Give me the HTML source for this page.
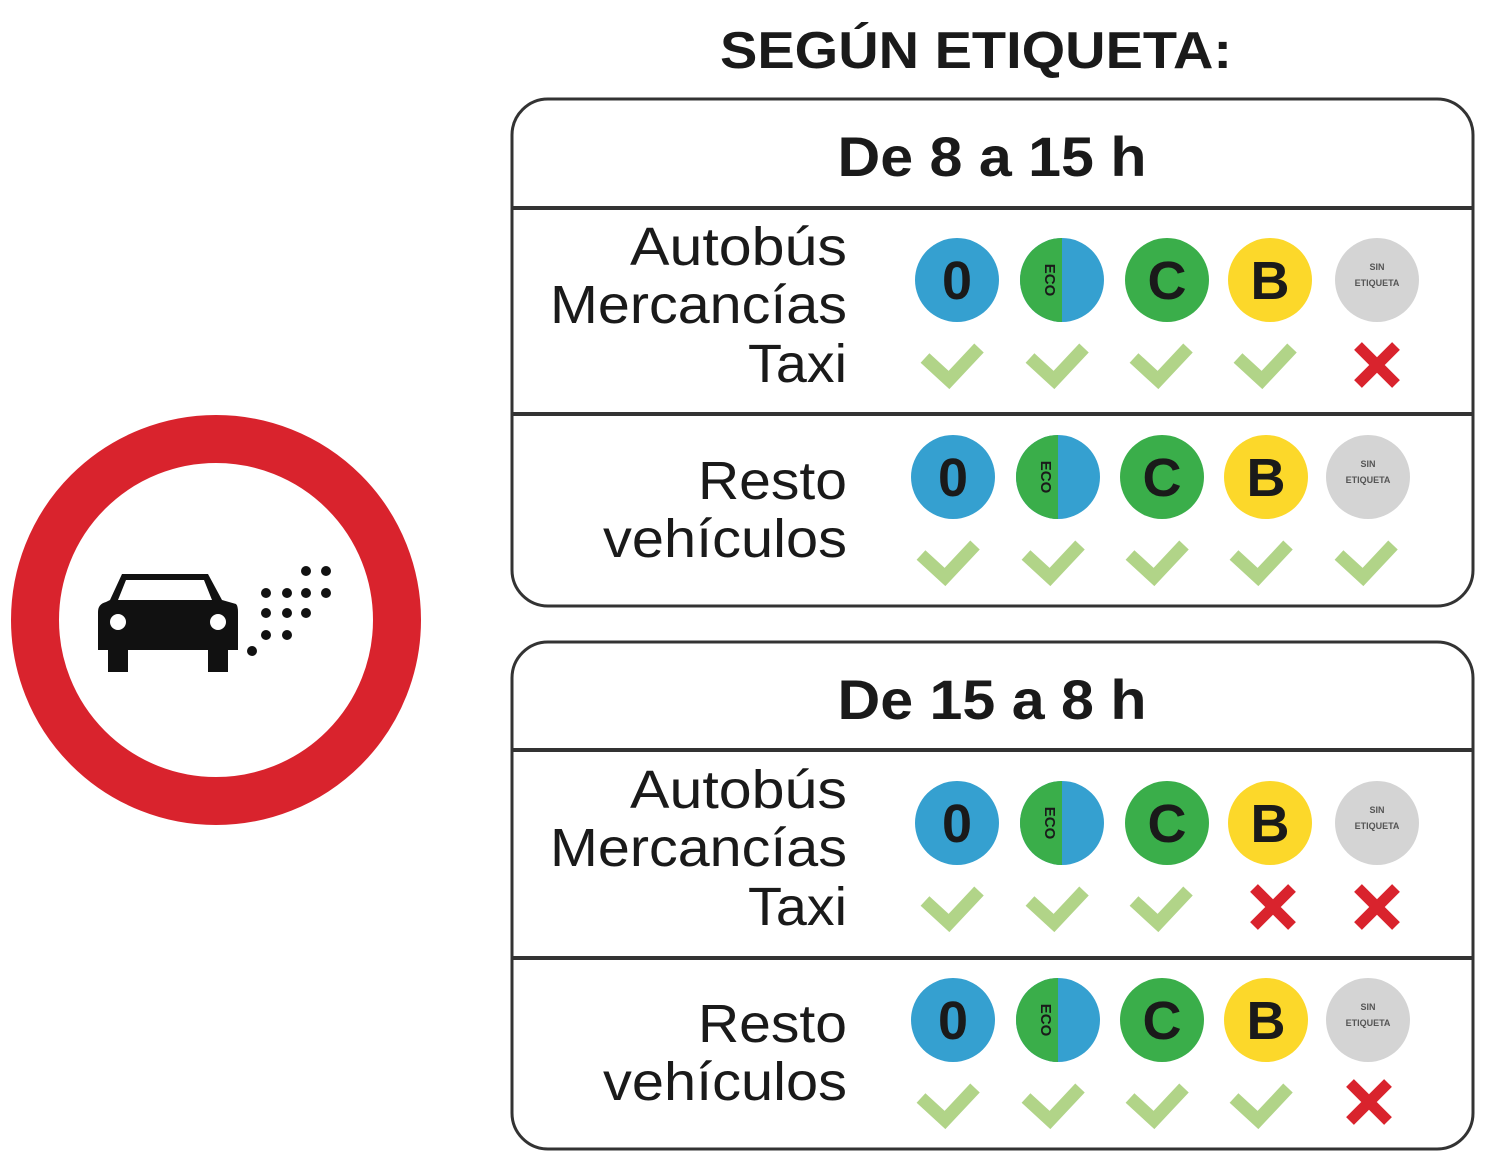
<!DOCTYPE html>
<html><head><meta charset="utf-8"><style>
html,body{margin:0;padding:0;background:#fff;width:1490px;height:1162px;overflow:hidden}
svg{display:block}
text{font-family:"Liberation Sans",sans-serif;font-weight:bold;fill:#1a1a1a}
.lb{font-weight:normal;font-size:54px;text-anchor:end}
.bt{text-anchor:middle}
</style></head><body>
<svg width="1490" height="1162" viewBox="0 0 1490 1162" xmlns="http://www.w3.org/2000/svg">
<circle cx="216" cy="620" r="181" fill="none" stroke="#d9232d" stroke-width="48"/>
<g fill="#111">
<path d="M122,574 L208,574 L222,600 L236,604 Q238,606 238,612 L238,650 L228,650 L228,672 L208,672 L208,650 L128,650 L128,672 L108,672 L108,650 L98,650 L98,612 Q98,604 106,602 L110,600 Z"/>
<path d="M126,580 L204,580 L212,600 L118,600 Z" fill="#fff"/>
<circle cx="118" cy="622" r="8" fill="#fff"/><circle cx="218" cy="622" r="8" fill="#fff"/>
<circle cx="252" cy="651" r="5"/><circle cx="266" cy="635" r="5"/><circle cx="287" cy="635" r="5"/>
<circle cx="266" cy="613" r="5"/><circle cx="287" cy="613" r="5"/><circle cx="306" cy="613" r="5"/>
<circle cx="266" cy="593" r="5"/><circle cx="287" cy="593" r="5"/><circle cx="306" cy="593" r="5"/><circle cx="326" cy="593" r="5"/>
<circle cx="306" cy="571" r="5"/><circle cx="326" cy="571" r="5"/>
</g>
<text x="976" y="68" font-size="52" class="bt" textLength="512" lengthAdjust="spacingAndGlyphs">SEGÚN ETIQUETA:</text>
<rect x="512" y="99" width="961" height="507" rx="36" fill="none" stroke="#333" stroke-width="3"/>
<line x1="512" y1="208" x2="1473" y2="208" stroke="#333" stroke-width="4"/>
<line x1="512" y1="414" x2="1473" y2="414" stroke="#333" stroke-width="4"/>
<rect x="512" y="642" width="961" height="507" rx="36" fill="none" stroke="#333" stroke-width="3"/>
<line x1="512" y1="750" x2="1473" y2="750" stroke="#333" stroke-width="4"/>
<line x1="512" y1="958" x2="1473" y2="958" stroke="#333" stroke-width="4"/>
<text x="992" y="176" font-size="56" class="bt" textLength="309" lengthAdjust="spacingAndGlyphs">De 8 a 15 h</text>
<text x="992" y="719" font-size="56" class="bt" textLength="309" lengthAdjust="spacingAndGlyphs">De 15 a 8 h</text>
<text class="lb" x="847" y="265" textLength="217" lengthAdjust="spacingAndGlyphs">Autobús</text>
<text class="lb" x="847" y="323" textLength="297" lengthAdjust="spacingAndGlyphs">Mercancías</text>
<text class="lb" x="847" y="382" textLength="99" lengthAdjust="spacingAndGlyphs">Taxi</text>
<text class="lb" x="847" y="499" textLength="149" lengthAdjust="spacingAndGlyphs">Resto</text>
<text class="lb" x="847" y="557" textLength="244" lengthAdjust="spacingAndGlyphs">vehículos</text>
<text class="lb" x="847" y="808" textLength="217" lengthAdjust="spacingAndGlyphs">Autobús</text>
<text class="lb" x="847" y="866" textLength="297" lengthAdjust="spacingAndGlyphs">Mercancías</text>
<text class="lb" x="847" y="925" textLength="99" lengthAdjust="spacingAndGlyphs">Taxi</text>
<text class="lb" x="847" y="1042" textLength="149" lengthAdjust="spacingAndGlyphs">Resto</text>
<text class="lb" x="847" y="1100" textLength="244" lengthAdjust="spacingAndGlyphs">vehículos</text>

<g transform="translate(957,280)"><circle r="42" fill="#35a0d0"/><text class="bt" y="19" font-size="54">0</text></g>
<g transform="translate(1062,280)"><circle r="42" fill="#35a0d0"/><path d="M0,-42 A42,42 0 0 0 0,42 Z" fill="#3aae4a"/><text class="bt" font-size="15" transform="translate(-17,0) rotate(90)">ECO</text></g>
<g transform="translate(1167,280)"><circle r="42" fill="#3aae4a"/><text class="bt" y="19" font-size="54">C</text></g>
<g transform="translate(1270,280)"><circle r="42" fill="#fcd82a"/><text class="bt" y="19" font-size="54">B</text></g>
<g transform="translate(1377,280)"><circle r="42" fill="#d4d4d4"/><text class="bt" y="-10" font-size="9" style="fill:#555">SIN</text><text class="bt" y="6" font-size="9" style="fill:#555">ETIQUETA</text></g>

<g transform="translate(953,477)"><circle r="42" fill="#35a0d0"/><text class="bt" y="19" font-size="54">0</text></g>
<g transform="translate(1058,477)"><circle r="42" fill="#35a0d0"/><path d="M0,-42 A42,42 0 0 0 0,42 Z" fill="#3aae4a"/><text class="bt" font-size="15" transform="translate(-17,0) rotate(90)">ECO</text></g>
<g transform="translate(1162,477)"><circle r="42" fill="#3aae4a"/><text class="bt" y="19" font-size="54">C</text></g>
<g transform="translate(1266,477)"><circle r="42" fill="#fcd82a"/><text class="bt" y="19" font-size="54">B</text></g>
<g transform="translate(1368,477)"><circle r="42" fill="#d4d4d4"/><text class="bt" y="-10" font-size="9" style="fill:#555">SIN</text><text class="bt" y="6" font-size="9" style="fill:#555">ETIQUETA</text></g>

<g transform="translate(957,823)"><circle r="42" fill="#35a0d0"/><text class="bt" y="19" font-size="54">0</text></g>
<g transform="translate(1062,823)"><circle r="42" fill="#35a0d0"/><path d="M0,-42 A42,42 0 0 0 0,42 Z" fill="#3aae4a"/><text class="bt" font-size="15" transform="translate(-17,0) rotate(90)">ECO</text></g>
<g transform="translate(1167,823)"><circle r="42" fill="#3aae4a"/><text class="bt" y="19" font-size="54">C</text></g>
<g transform="translate(1270,823)"><circle r="42" fill="#fcd82a"/><text class="bt" y="19" font-size="54">B</text></g>
<g transform="translate(1377,823)"><circle r="42" fill="#d4d4d4"/><text class="bt" y="-10" font-size="9" style="fill:#555">SIN</text><text class="bt" y="6" font-size="9" style="fill:#555">ETIQUETA</text></g>

<g transform="translate(953,1020)"><circle r="42" fill="#35a0d0"/><text class="bt" y="19" font-size="54">0</text></g>
<g transform="translate(1058,1020)"><circle r="42" fill="#35a0d0"/><path d="M0,-42 A42,42 0 0 0 0,42 Z" fill="#3aae4a"/><text class="bt" font-size="15" transform="translate(-17,0) rotate(90)">ECO</text></g>
<g transform="translate(1162,1020)"><circle r="42" fill="#3aae4a"/><text class="bt" y="19" font-size="54">C</text></g>
<g transform="translate(1266,1020)"><circle r="42" fill="#fcd82a"/><text class="bt" y="19" font-size="54">B</text></g>
<g transform="translate(1368,1020)"><circle r="42" fill="#d4d4d4"/><text class="bt" y="-10" font-size="9" style="fill:#555">SIN</text><text class="bt" y="6" font-size="9" style="fill:#555">ETIQUETA</text></g>

<g fill="none" stroke="#b1d488" stroke-width="13" stroke-linejoin="miter">
<path d="M925,358 l24,22 l30,-32"/>
<path d="M1030,358 l24,22 l30,-32"/>
<path d="M1134,358 l24,22 l30,-32"/>
<path d="M1238,358 l24,22 l30,-32"/>
<path d="M921,555 l24,22 l30,-32"/>
<path d="M1026,555 l24,22 l30,-32"/>
<path d="M1130,555 l24,22 l30,-32"/>
<path d="M1234,555 l24,22 l30,-32"/>
<path d="M1339,555 l24,22 l30,-32"/>
<path d="M925,901 l24,22 l30,-32"/>
<path d="M1030,901 l24,22 l30,-32"/>
<path d="M1134,901 l24,22 l30,-32"/>
<path d="M921,1098 l24,22 l30,-32"/>
<path d="M1026,1098 l24,22 l30,-32"/>
<path d="M1130,1098 l24,22 l30,-32"/>
<path d="M1234,1098 l24,22 l30,-32"/>
</g>
<g stroke="#d9232d" stroke-width="11">
<path d="M1358,346 l38,38 M1396,346 l-38,38"/>
<path d="M1254,888 l38,38 M1292,888 l-38,38"/>
<path d="M1358,888 l38,38 M1396,888 l-38,38"/>
<path d="M1350,1083 l38,38 M1388,1083 l-38,38"/>
</g>
</svg>
</body></html>
